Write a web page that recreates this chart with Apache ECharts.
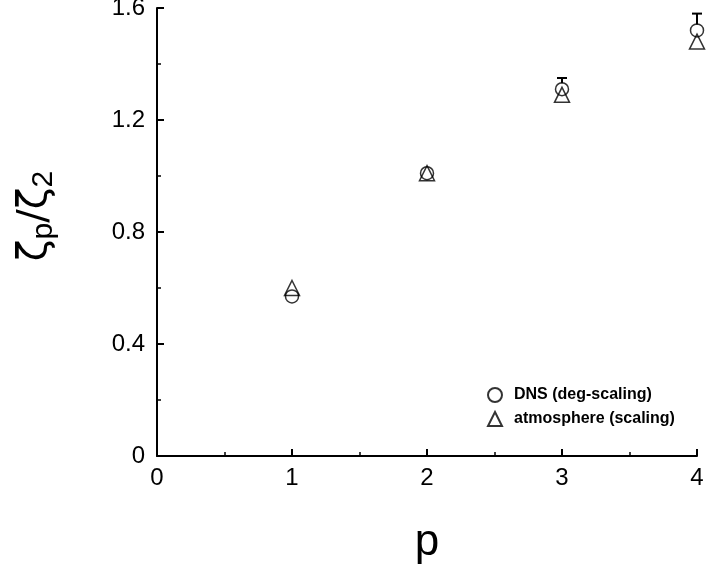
<!DOCTYPE html>
<html>
<head>
<meta charset="utf-8">
<script src="https://cdn.jsdelivr.net/npm/echarts@6/dist/echarts.min.js"></script>
<style>
  html, body { margin: 0; padding: 0; background: #fff; }
  #chart { width: 706px; height: 564px; }
</style>
</head>
<body>
<div id="chart"></div>
<script>
// p values and ratios zeta_p / zeta_2
var pValues = [1, 2, 3, 4];
var dnsValues = [0.57, 1.01, 1.31, 1.52];
var dnsErrors = [0, 0, 0.04, 0.06];
var atmValues = [0.60, 1.01, 1.29, 1.48];

var font = "Liberation Sans, Arial, sans-serif";

var myChart = echarts.init(document.getElementById("chart"));

var dnsData = pValues.map(function (p, i) { return [p, dnsValues[i]]; });
var atmData = pValues.map(function (p, i) { return [p, atmValues[i]]; });
var errData = pValues.map(function (p, i) { return [p, dnsValues[i], dnsErrors[i]]; });

myChart.setOption({
  animation: false,
  grid: {
    left: 157,
    right: 9,
    top: 8,
    bottom: 108,
    outerBoundsMode: "none"
  },
  legend: {
    left: 482,
    top: 382,
    orient: "vertical",
    itemGap: 8,
    itemWidth: 14,
    itemHeight: 14,
    textStyle: {
      fontFamily: font,
      fontWeight: "bold",
      fontSize: 16,
      color: "#000",
      padding: [0, 0, 0, 7]
    },
    data: [
      { name: "DNS (deg-scaling)", icon: "circle" },
      { name: "atmosphere (scaling)", icon: "triangle" }
    ]
  },
  xAxis: {
    type: "value",
    min: 0,
    max: 4,
    interval: 1,
    name: "p",
    nameLocation: "middle",
    nameGap: 65,
    nameTextStyle: { fontFamily: font, fontSize: 44, color: "#000" },
    axisLine: { lineStyle: { color: "#000", width: 2 } },
    axisTick: { inside: true, length: 7, lineStyle: { color: "#000", width: 2 } },
    minorTick: { show: true, splitNumber: 2, length: 4, lineStyle: { color: "#000", width: 1.5 } },
    axisLabel: { fontFamily: font, fontSize: 24, color: "#000", margin: 10 },
    splitLine: { show: false }
  },
  yAxis: {
    type: "value",
    min: 0,
    max: 1.6,
    interval: 0.4,
    name: "{z|ζ}{s|p}{z|/ζ}{s|2}",
    nameLocation: "middle",
    nameRotate: 90,
    nameGap: 98,
    nameTextStyle: {
      fontFamily: font,
      color: "#000",
      padding: [0, 0, 0, 32],
      rich: {
        z: { fontFamily: "DejaVu Sans", fontSize: 40, color: "#000", verticalAlign: "middle" },
        s: { fontFamily: font, fontSize: 30, color: "#000", padding: [16, 0, 0, 0], verticalAlign: "middle" }
      }
    },
    axisLine: { show: true, lineStyle: { color: "#000", width: 2 } },
    axisTick: { show: true, inside: true, length: 7, lineStyle: { color: "#000", width: 2 } },
    minorTick: { show: true, splitNumber: 2, length: 4, lineStyle: { color: "#000", width: 1.5 } },
    axisLabel: { fontFamily: font, fontSize: 24, color: "#000", margin: 12 },
    splitLine: { show: false }
  },
  series: [
    {
      name: "DNS (deg-scaling)",
      type: "scatter",
      symbol: "circle",
      symbolSize: 13,
      itemStyle: { color: "rgba(255,255,255,0)", borderColor: "#000", borderWidth: 1.5 },
      data: dnsData,
      z: 3
    },
    {
      name: "atmosphere (scaling)",
      type: "scatter",
      symbol: "triangle",
      symbolSize: 15,
      itemStyle: { color: "rgba(255,255,255,0)", borderColor: "#000", borderWidth: 1.5 },
      data: atmData,
      z: 3
    },
    {
      // upper error bars for the DNS points
      type: "custom",
      data: errData,
      z: 2,
      renderItem: function (params, api) {
        var err = api.value(2);
        if (!err) return null;
        var base = api.coord([api.value(0), api.value(1)]);
        var top = api.coord([api.value(0), api.value(1) + err]);
        var startY = base[1] - 6;
        return {
          type: "group",
          children: [
            {
              type: "line",
              shape: { x1: top[0], y1: startY, x2: top[0], y2: top[1] },
              style: { stroke: "#000", lineWidth: 2 }
            },
            {
              type: "line",
              shape: { x1: top[0] - 5, y1: top[1], x2: top[0] + 5, y2: top[1] },
              style: { stroke: "#000", lineWidth: 2 }
            }
          ]
        };
      }
    }
  ]
});
</script>
</body>
</html>
